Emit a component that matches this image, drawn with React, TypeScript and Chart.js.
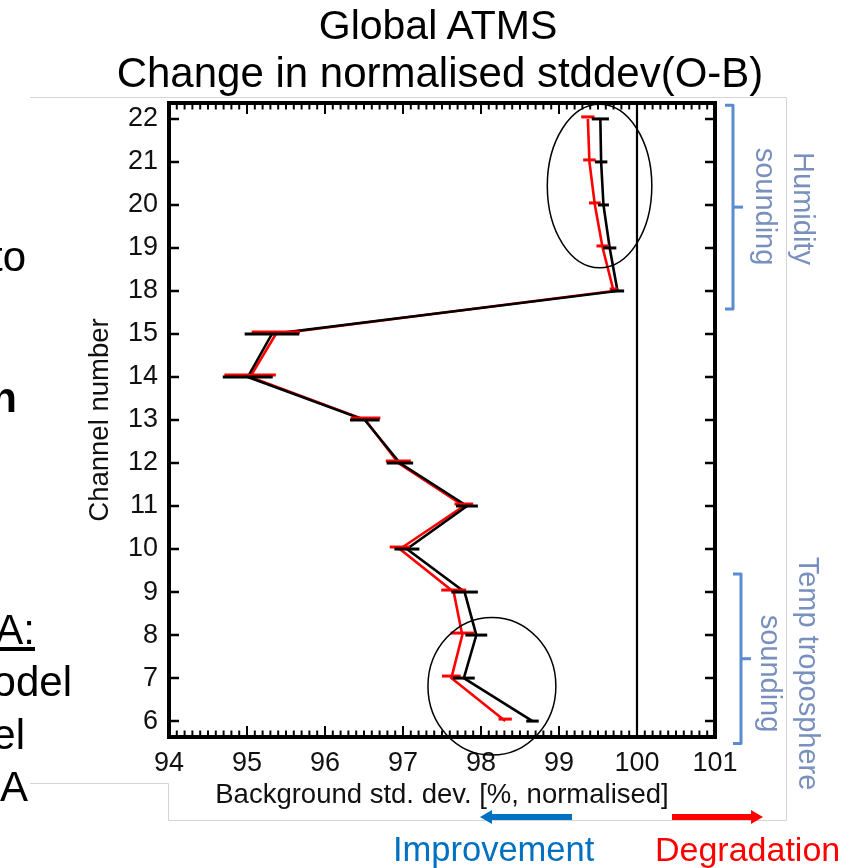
import React, { useEffect, useRef } from "react";
import { Chart, registerables } from "chart.js";

Chart.register(...registerables);

// ---------- data ----------
const channels = ["6", "7", "8", "9", "10", "11", "12", "13", "14", "15", "18", "19", "20", "21", "22"];
const blackValues = [98.66, 97.78, 97.94, 97.79, 97.05, 97.82, 96.96, 96.51, 95.01, 95.32, 99.75, 99.65, 99.57, 99.54, 99.53];
const blackErrors = [0.08, 0.14, 0.14, 0.17, 0.16, 0.14, 0.17, 0.19, 0.32, 0.35, 0.085, 0.085, 0.07, 0.08, 0.11];
const redValues = [98.31, 97.62, 97.76, 97.65, 96.96, 97.78, 96.94, 96.52, 95.04, 95.37, 99.7, 99.56, 99.46, 99.39, 99.37];
const redErrors = [0.085, 0.12, 0.15, 0.16, 0.13, 0.12, 0.16, 0.19, 0.33, 0.31, 0.05, 0.08, 0.075, 0.08, 0.085];
const xTicks = [94, 95, 96, 97, 98, 99, 100, 101];
const referenceValue = 100;
const humidityChannels = ["18", "19", "20", "21", "22"];
const tempChannels = ["6", "7", "8", "9"];
// highlighted regions (data space: x value, channel index, radii)
const highlightTop = { x: 99.52, y: 12.44, rx: 0.67, ry: 1.9 };
const highlightBottom = { x: 98.14, y: 0.81, rx: 0.82, ry: 1.6 };

const FONT = "'Liberation Sans', Arial, Helvetica, sans-serif";
const BRACKET = "#5b8bd0";
const NOTE = "#7990bf";

const decorPlugin = {
  id: "decor",
  beforeDraw(chart: any) {
    const ctx = chart.ctx;
    ctx.save();
    ctx.strokeStyle = "#d4d4d4";
    ctx.lineWidth = 1;
    ctx.beginPath();
    ctx.moveTo(30, 97.5);
    ctx.lineTo(786.5, 97.5);
    ctx.lineTo(786.5, 820.5);
    ctx.lineTo(168.5, 820.5);
    ctx.lineTo(168.5, 783.5);
    ctx.lineTo(30, 783.5);
    ctx.stroke();
    ctx.restore();
  },
  beforeDatasetsDraw(chart: any) {
    const ctx = chart.ctx;
    const xs = chart.scales.x;
    const { top, bottom } = chart.chartArea;
    const x = xs.getPixelForValue(referenceValue);
    ctx.save();
    ctx.strokeStyle = "#000";
    ctx.lineWidth = 2.2;
    ctx.beginPath();
    ctx.moveTo(x, top);
    ctx.lineTo(x, bottom);
    ctx.stroke();
    ctx.restore();
  },
  afterDatasetsDraw(chart: any) {
    const ctx = chart.ctx;
    const xs = chart.scales.x;
    const ys = chart.scales.y;
    ctx.save();
    ctx.lineCap = "butt";
    const drawBars = (vals: number[], errs: number[], color: string, dy: number) => {
      ctx.strokeStyle = color;
      ctx.lineWidth = 3;
      vals.forEach((v, i) => {
        const y = ys.getPixelForValue(i) + dy;
        ctx.beginPath();
        ctx.moveTo(xs.getPixelForValue(v - errs[i]), y);
        ctx.lineTo(xs.getPixelForValue(v + errs[i]), y);
        ctx.stroke();
      });
    };
    drawBars(redValues, redErrors, "#ff0000", -2);
    drawBars(blackValues, blackErrors, "#000000", 0);
    ctx.restore();
  },
  afterDraw(chart: any) {
    const ctx = chart.ctx;
    const xs = chart.scales.x;
    const ys = chart.scales.y;
    const { left, right, top, bottom } = chart.chartArea;
    ctx.save();
    // ticks
    ctx.strokeStyle = "#000";
    ctx.lineWidth = 2;
    for (let k = 0; k <= 70; k++) {
      const v = 94 + k / 10;
      const x = xs.getPixelForValue(v);
      const len = k % 10 === 0 ? 11 : 6.5;
      ctx.beginPath();
      ctx.moveTo(x, bottom);
      ctx.lineTo(x, bottom - len);
      ctx.moveTo(x, top);
      ctx.lineTo(x, top + len);
      ctx.stroke();
    }
    ctx.lineWidth = 2.5;
    channels.forEach((_, i) => {
      const y = ys.getPixelForValue(i);
      ctx.beginPath();
      ctx.moveTo(left, y);
      ctx.lineTo(left + 10, y);
      ctx.moveTo(right, y);
      ctx.lineTo(right - 10, y);
      ctx.stroke();
    });
    // frame
    ctx.lineWidth = 4;
    ctx.strokeRect(left, top, right - left, bottom - top);

    // ellipses
    ctx.lineWidth = 1.5;
    [highlightTop, highlightBottom].forEach((h) => {
      const cx = xs.getPixelForValue(h.x);
      const cy = ys.getPixelForValue(h.y);
      const rx = Math.abs(xs.getPixelForValue(h.x + h.rx) - cx);
      const ry = Math.abs(ys.getPixelForValue(h.y + h.ry) - cy);
      ctx.beginPath();
      ctx.ellipse(cx, cy, rx, ry, 0, 0, Math.PI * 2);
      ctx.stroke();
    });

    // brackets
    const drawBracket = (group: string[], pad: number, offset: number) => {
      const idx = group.map((c) => channels.indexOf(c));
      const hi = Math.max(...idx) + pad;
      const lo = Math.min(...idx) - pad - 0.1;
      const x = right + offset;
      const y1 = ys.getPixelForValue(hi);
      const y2 = ys.getPixelForValue(lo);
      ctx.strokeStyle = BRACKET;
      ctx.lineWidth = 3;
      ctx.lineJoin = "round";
      ctx.beginPath();
      ctx.moveTo(x - 8, y1);
      ctx.lineTo(x, y1);
      ctx.lineTo(x, y2);
      ctx.lineTo(x - 8, y2);
      ctx.stroke();
      const ym = (y1 + y2) / 2;
      ctx.beginPath();
      ctx.moveTo(x, ym);
      ctx.lineTo(x + 10, ym);
      ctx.stroke();
    };
    drawBracket(humidityChannels, 0.32, 18);
    drawBracket(tempChannels, 0.42, 26);

    // arrows
    const arrow = (x0: number, x1: number, y: number, color: string) => {
      const dir = Math.sign(x1 - x0);
      const headLen = 12;
      ctx.fillStyle = color;
      const sx = Math.min(x0, x1 - dir * headLen);
      const ex = Math.max(x0, x1 - dir * headLen);
      ctx.fillRect(sx, y - 3, ex - sx, 6);
      ctx.beginPath();
      ctx.moveTo(x1, y);
      ctx.lineTo(x1 - dir * headLen, y - 7);
      ctx.lineTo(x1 - dir * headLen, y + 7);
      ctx.closePath();
      ctx.fill();
    };
    arrow(572, 480, 817, "#0070c0");
    arrow(672, 763, 817, "#ff0000");
    ctx.restore();
  },
};

function baselineTop(baseline: number, size: number) {
  return baseline - 0.8465 * size;
}

const leftFragments = [
  { text: "to", right: 26, baseline: 272, bold: false, underline: false },
  { text: "n", right: 17, baseline: 413, bold: true, underline: false },
  { text: "A:", right: 35, baseline: 645, bold: false, underline: true },
  { text: "odel", right: 72, baseline: 697, bold: false, underline: false },
  { text: "el", right: 25, baseline: 750, bold: false, underline: false },
  { text: "A", right: 28, baseline: 802, bold: false, underline: false },
];

const sideNotes = [
  { text: "sounding", baseline: 755, cy: 206 },
  { text: "Humidity", baseline: 793, cy: 208 },
  { text: "sounding", baseline: 760, cy: 673 },
  { text: "Temp troposphere", baseline: 798, cy: 673 },
];

export default function App() {
  const canvasRef = useRef<HTMLCanvasElement | null>(null);

  useEffect(() => {
    if (!canvasRef.current) return;
    const chart = new Chart(canvasRef.current, {
      type: "scatter",
      data: {
        datasets: [
          {
            label: "black",
            data: blackValues.map((v, i) => ({ x: v, y: i })),
            showLine: true,
            borderColor: "#000000",
            backgroundColor: "#000000",
            borderWidth: 2.6,
            pointRadius: 0,
          },
          {
            label: "red",
            data: redValues.map((v, i) => ({ x: v, y: i })),
            showLine: true,
            borderColor: "#ff0000",
            backgroundColor: "#ff0000",
            borderWidth: 2.6,
            pointRadius: 0,
          },
        ],
      },
      options: {
        responsive: false,
        animation: false,
        events: [],
        layout: { padding: { left: 0, right: 136, top: 103, bottom: 0 } },
        plugins: { legend: { display: false }, tooltip: { enabled: false }, title: { display: false } },
        scales: {
          x: {
            type: "linear",
            position: "bottom",
            min: 94,
            max: 101,
            afterBuildTicks: (s: any) => {
              s.ticks = xTicks.map((v) => ({ value: v }));
            },
            afterFit: (s: any) => {
              s.height = 131;
            },
            grid: { display: false, drawTicks: false },
            border: { display: false },
            ticks: {
              font: { family: FONT, size: 27 },
              color: "#111",
              padding: 10,
              autoSkip: false,
              maxRotation: 0,
              callback: (v: any) => String(v),
            },
            title: {
              display: true,
              text: "Background std. dev. [%, normalised]",
              font: { family: FONT, size: 27.5 },
              color: "#111",
              padding: { top: 0, bottom: 56.5 },
            },
          },
          y: {
            type: "linear",
            position: "left",
            min: -0.37,
            max: 14.37,
            afterBuildTicks: (s: any) => {
              s.ticks = channels.map((_, i) => ({ value: i }));
            },
            afterFit: (s: any) => {
              s.width = 169;
            },
            grid: { display: false, drawTicks: false },
            border: { display: false },
            ticks: {
              font: { family: FONT, size: 27 },
              color: "#111",
              padding: 11,
              autoSkip: false,
              callback: (v: any) => channels[Math.round(Number(v))] ?? "",
            },
            title: {
              display: true,
              text: "Channel number",
              font: { family: FONT, size: 27.5 },
              color: "#111",
              padding: { top: 84, bottom: 0 },
            },
          },
        },
      } as any,
      plugins: [decorPlugin],
    });
    return () => chart.destroy();
  }, []);

  return (
    <div
      style={{
        position: "absolute",
        left: 0,
        top: 0,
        width: 851,
        height: 868,
        overflow: "hidden",
        background: "#fff",
        fontFamily: FONT,
      }}
    >
      <canvas
        ref={canvasRef}
        width={851}
        height={868}
        style={{ position: "absolute", left: 0, top: 0, width: 851, height: 868 }}
      />
      {/* title */}
      <div
        style={{
          position: "absolute",
          left: 38,
          width: 800,
          top: baselineTop(40, 41),
          fontSize: 41,
          lineHeight: "41px",
          textAlign: "center",
          color: "#000",
          whiteSpace: "nowrap",
        }}
      >
        Global ATMS
      </div>
      <div
        style={{
          position: "absolute",
          left: 40,
          width: 800,
          top: baselineTop(88, 42),
          fontSize: 42,
          lineHeight: "42px",
          textAlign: "center",
          color: "#000",
          whiteSpace: "nowrap",
        }}
      >
        Change in normalised stddev(O-B)
      </div>
      {/* left slide text fragments */}
      {leftFragments.map((f, i) => (
        <div
          key={i}
          style={{
            position: "absolute",
            left: f.right - 200,
            width: 200,
            top: baselineTop(f.baseline, 42),
            fontSize: 42,
            lineHeight: "42px",
            textAlign: "right",
            color: "#000",
            fontWeight: f.bold ? "bold" : "normal",
            textDecoration: f.underline ? "underline" : "none",
            whiteSpace: "nowrap",
          }}
        >
          {f.text}
        </div>
      ))}
      {/* side notes */}
      {sideNotes.map((n, i) => (
        <div
          key={"n" + i}
          style={{
            position: "absolute",
            left: n.baseline + 0.3465 * 29 - 150,
            top: n.cy - 14.5,
            width: 300,
            height: 29,
            fontSize: 29,
            lineHeight: "29px",
            textAlign: "center",
            color: NOTE,
            whiteSpace: "nowrap",
            transform: "rotate(90deg)",
            transformOrigin: "50% 50%",
          }}
        >
          {n.text}
        </div>
      ))}
      {/* improvement / degradation */}
      <div
        style={{
          position: "absolute",
          left: 393,
          top: baselineTop(861, 34.5),
          fontSize: 34.5,
          lineHeight: "34.5px",
          color: "#0070c0",
          whiteSpace: "nowrap",
        }}
      >
        Improvement
      </div>
      <div
        style={{
          position: "absolute",
          left: 655,
          top: baselineTop(861, 34),
          fontSize: 34,
          lineHeight: "34px",
          color: "#ff0000",
          whiteSpace: "nowrap",
        }}
      >
        Degradation
      </div>
    </div>
  );
}
